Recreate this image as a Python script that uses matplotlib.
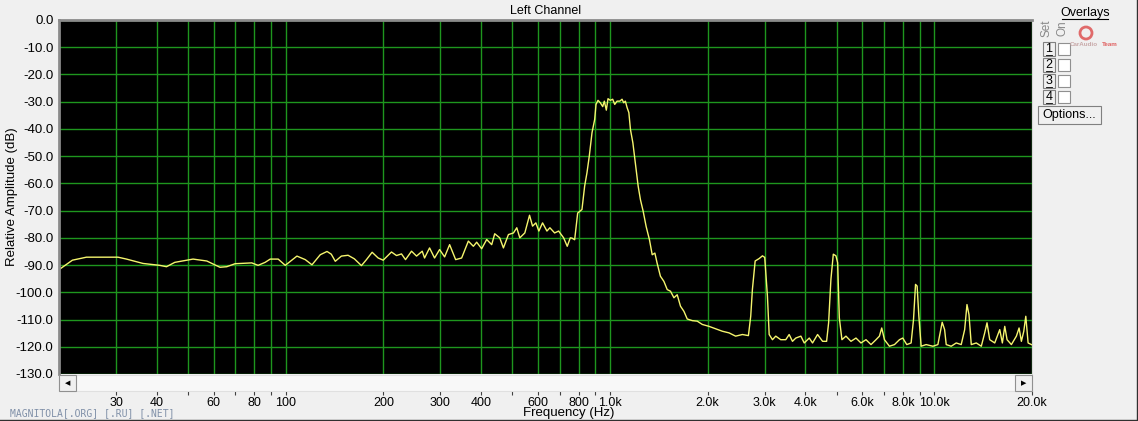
import matplotlib
matplotlib.use("Agg")
import matplotlib.pyplot as plt
from matplotlib.patches import Rectangle, Ellipse
from matplotlib.lines import Line2D

# spectrum: frequency (Hz) / level (dB)
freq = [20.1, 21.1, 22.0, 24.3, 30.4, 32.3, 36.3, 40.9, 42.9, 45.5, 51.8, 57.1,
        62.7, 65.8, 69.8, 78.6, 82.2, 86.4, 89.6, 94.8, 99.7, 108.3, 114.9,
        120.5, 127.8, 134.1, 138.2,
        142.2, 148.5, 155.7, 162.8, 171.2, 177.4, 184.7, 192.8, 199.8, 211.9,
        219.6, 227.5, 234.1, 244.3, 253.2, 263.6, 268.0, 277.7, 287.7, 298.2,
        309.0, 320.2, 334.2, 348.7, 365.7, 379.0, 388.0, 402.0, 416.6, 431.7,
        441.0, 457.0, 469.1, 486.1, 503.8, 515.8, 527.0, 546.1, 564.7, 576.9,
        590.6, 603.3, 619.4, 638.9, 652.5, 674.8, 694.2, 719.4, 738.0, 754.1,
        763.3, 777.9, 790.7, 794.7, 819.3, 835.1, 849.0, 863.0, 879.9, 896.8,
        905.2, 918.3, 933.3, 949.3, 960.3, 974.0, 985.8, 1002, 1019, 1034,
        1051, 1072, 1089, 1102, 1115, 1129, 1143, 1156, 1176, 1197, 1221,
        1241, 1265, 1292, 1323,
        1349, 1375, 1397, 1430, 1466, 1501, 1536, 1574, 1611, 1649, 1690,
        1730, 1793, 1858, 1925,
        2019, 2116, 2220, 2328, 2439, 2559, 2671, 2715, 2748, 2802, 2883,
        2951, 2999, 3057, 3095, 3168, 3243, 3360, 3482, 3567, 3652, 3739,
        3876, 3970, 4114, 4211, 4364, 4522, 4653, 4720, 4798, 4880, 4971,
        5032, 5093, 5188, 5338, 5532, 5732, 5939, 6154, 6377, 6608, 6770,
        6882, 7016, 7269, 7534, 7806, 7990, 8222, 8478, 8624, 8748, 8848,
        8957, 9104, 9433, 9894, 10252, 10571, 10754, 10878, 11270, 11680,
        12100, 12400, 12605, 12785, 12996, 13466, 13955, 14296, 14532, 14814,
        15351, 15907, 16205, 16483, 16755, 17276, 17901, 18247, 18548, 18867,
        19138, 19455, 19918, 20405]
level = [-91.5, -89.7, -88.2, -87.1, -87.1, -87.8, -89.4, -90.1, -90.6, -89.0,
         -87.8, -88.5, -90.8, -90.6, -89.5, -89.2, -90.1, -89.0, -87.8, -87.8,
         -90.1, -86.7, -88.0, -89.9, -86.2, -85.0, -86.0,
         -88.6, -86.7, -86.4, -87.7, -90.2, -88.0, -85.3, -87.4, -88.2, -85.2,
         -86.5, -85.9, -88.0, -84.9, -86.7, -84.9, -87.4, -83.7, -87.4, -84.3,
         -87.0, -82.5, -88.0, -87.4, -81.2, -83.1, -81.6, -84.0, -80.6, -82.5,
         -78.5, -80.0, -83.7, -78.8, -78.2, -76.3, -80.0, -78.2, -71.7, -75.7,
         -74.5, -77.5, -74.5, -77.5, -76.3, -78.2, -77.5, -80.0, -83.1, -80.0,
         -80.1, -80.7, -73.3, -70.9, -69.6, -61.0, -56.1, -50.0, -41.4, -36.5,
         -31.0, -29.5, -30.4, -31.8, -29.8, -33.1, -28.9, -29.5, -29.1, -31.0,
         -29.8, -29.8, -29.1, -30.4, -29.8, -32.2, -34.0, -40.2, -45.1, -52.5,
         -61.0, -66.0, -70.2, -75.8, -80.7,
         -86.2, -85.6, -89.3, -94.1, -96.0, -99.0, -99.6, -102.0, -100.9,
         -105.1, -107.0, -109.8, -110.4, -110.6, -111.8,
         -112.5, -113.4, -114.3, -114.9, -116.1, -115.5, -115.9, -108.8, -98.9,
         -88.5, -87.6, -86.6, -87.2, -101.4, -115.5, -117.4, -116.1, -117.4,
         -117.4, -115.5, -118.0, -116.8, -116.1, -118.6, -116.8, -118.6,
         -115.5, -118.0, -118.0, -111.2, -95.2, -86.0, -86.6, -89.1, -109.4,
         -117.4, -116.1, -118.0, -116.8, -118.6, -117.4, -119.2, -117.4,
         -116.1, -113.1, -117.4, -119.8, -119.2, -117.4, -116.8, -119.2,
         -118.6, -110.0, -97.1, -97.7, -108.8, -119.8, -119.2, -119.8, -119.2,
         -111.0, -113.7, -119.2, -119.8, -118.6, -119.2, -113.7, -104.5,
         -108.2, -119.2, -118.6, -119.8, -114.9, -111.2, -117.4, -118.6,
         -113.7, -118.6, -112.5, -117.4, -119.2, -116.1, -113.1, -118.0,
         -114.3, -108.8, -118.6, -119.2, -119.8]

grid_freqs = [30, 40, 50, 60, 70, 80, 90, 100, 200, 300, 400, 500, 600, 700,
              800, 900, 1000, 2000, 3000, 4000, 5000, 6000, 7000, 8000, 9000,
              10000, 20000]
freq_labels = {30: "30", 40: "40", 60: "60", 80: "80", 100: "100", 200: "200",
               300: "300", 400: "400", 600: "600", 800: "800", 1000: "1.0k",
               2000: "2.0k", 3000: "3.0k", 4000: "4.0k", 6000: "6.0k",
               8000: "8.0k", 10000: "10.0k", 20000: "20.0k"}
db_ticks = list(range(0, -131, -10))

W, H = 1138, 421
def fx(px):
    return px / W
def fy(py):
    return 1 - py / H

plt.rcParams['font.family'] = ['Liberation Sans', 'DejaVu Sans']
fig = plt.figure(figsize=(W / 100, H / 100), dpi=100, facecolor='#f0f0f0')

ax = fig.add_axes([fx(59), fy(374), fx(1032) - fx(59), fy(20) - fy(374)])
ax.set_facecolor('black')
ax.plot(freq, level, color='#f5f56e', lw=1.0)
ax.set_xscale('log')
ax.set_xlim(20, 20000)
ax.set_ylim(-130, 0)

ax.set_xticks(grid_freqs)
ax.set_xticks([], minor=True)
ax.set_xticklabels([])
ax.tick_params(axis='x', length=0)
ax.set_yticks(db_ticks)
ax.set_yticklabels([f"{v:.1f}" for v in db_ticks], fontsize=9.5)
ax.tick_params(axis='y', length=0, pad=4)
ax.grid(True, color='#1e961e', lw=1.0)

for s in ['left', 'top']:
    ax.spines[s].set_color('#8a8a8a')
    ax.spines[s].set_linewidth(2)
ax.spines['right'].set_color('#d8d8d8')
ax.spines['bottom'].set_visible(False)

# frequency labels below the scroll bar
sec = ax.secondary_xaxis(-0.048)
sec.set_xticks(grid_freqs, [freq_labels.get(f, "") for f in grid_freqs])
sec.set_xticks([], minor=True)
sec.tick_params(axis='x', length=3, color='#404040', labelsize=9, pad=1)
sec.spines['bottom'].set_visible(False)

ax.set_title("Left Channel", fontsize=9, pad=4)
fig.text(fx(12), fy(197), "Relative Amplitude (dB)", rotation=90,
         ha='center', va='center', fontsize=9.5)
fig.text(0.5, fy(413), "Frequency (Hz)", ha='center', va='center', fontsize=9.5)
fig.text(fx(10), fy(413), "MAGNITOLA[.ORG] [.RU] [.NET]", ha='left', va='center',
         fontsize=7, family='DejaVu Sans Mono', color='#8090a8')

def box(x0, y0, x1, y1, face, edge, lw=0.8):
    fig.add_artist(Rectangle((fx(x0), fy(y1)), fx(x1) - fx(x0), fy(y0) - fy(y1),
                             transform=fig.transFigure, facecolor=face,
                             edgecolor=edge, lw=lw))

# scroll bar
box(59, 375, 1032, 391, '#f8f8f8', '#e0e0e0')
box(59, 375, 76, 391, '#f0f0f0', '#909090')
box(1015, 375, 1032, 391, '#f0f0f0', '#909090')
fig.text(fx(67.5), fy(383), "\u25c0", ha='center', va='center', fontsize=5,
         family='DejaVu Sans')
fig.text(fx(1023.5), fy(383), "\u25b6", ha='center', va='center', fontsize=5,
         family='DejaVu Sans')

# overlays panel
fig.text(fx(1085), fy(13), "Overlays", ha='center', va='center', fontsize=9)
fig.add_artist(Line2D([fx(1062), fx(1108)], [fy(19), fy(19)], color='black',
                      lw=0.8, transform=fig.transFigure))
fig.text(fx(1047), fy(28), "Set", rotation=90, ha='center', va='center',
         fontsize=8.5, color='#8a8a8a')
fig.text(fx(1063), fy(28), "On", rotation=90, ha='center', va='center',
         fontsize=8.5, color='#8a8a8a')
fig.add_artist(Ellipse((fx(1086), fy(33)), 12 / W, 12 / H, transform=fig.transFigure,
                       facecolor='none', edgecolor='#e06a6a', lw=2))
fig.text(fx(1084), fy(45), "CarAudio", ha='center', va='center', fontsize=4.5,
         color='#c8a8a8', weight='bold')
fig.text(fx(1110), fy(45), "Team", ha='center', va='center', fontsize=4.5,
         color='#e06060', weight='bold')
for i, y0 in enumerate([42, 58, 74, 90], start=1):
    box(1043, y0, 1055, y0 + 14, '#f0f0f0', '#808080')
    fig.text(fx(1049), fy(y0 + 7), str(i), ha='center', va='center', fontsize=9)
    fig.add_artist(Line2D([fx(1046), fx(1052)], [fy(y0 + 12.5), fy(y0 + 12.5)],
                          color='black', lw=0.6, transform=fig.transFigure))
    box(1058, y0 + 1, 1070, y0 + 13, 'white', '#909090')
box(1038, 106, 1101, 124, '#f0f0f0', '#808080')
fig.text(fx(1069.5), fy(115), "Options...", ha='center', va='center', fontsize=9)

# window edge
fig.add_artist(Line2D([fx(1136.5), fx(1136.5)], [0, 1], color='#303030', lw=1,
                      transform=fig.transFigure))
fig.add_artist(Line2D([0, 1], [fy(419.5), fy(419.5)], color='#303030', lw=1,
                      transform=fig.transFigure))

fig.savefig("out.png", dpi=100, facecolor=fig.get_facecolor())
